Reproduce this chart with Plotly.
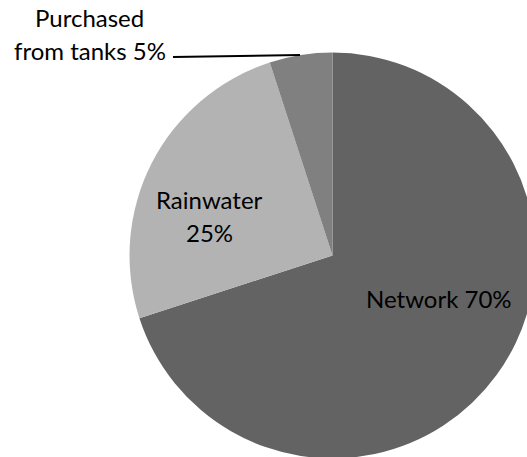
import plotly.graph_objects as go

# Water sources and their shares (%)
sources = ["Network", "Rainwater", "Purchased from tanks"]
shares = [70, 25, 5]
colors = ["#636363", "#b3b3b3", "#808080"]

# Canvas a touch larger than the view so the pie can run off the right/bottom edges
W, H = 540, 470
cx, cy, r = 332.5, 255.5, 203.0  # pie centre and radius in px (from top-left)


def px(x):
    return x / W


def py(y):
    return 1 - y / H


fig = go.Figure(
    go.Pie(
        labels=sources,
        values=shares,
        sort=False,
        direction="clockwise",
        rotation=0,
        marker=dict(colors=colors, line=dict(width=0)),
        textinfo="none",
        hoverinfo="label+percent",
        showlegend=False,
        domain=dict(x=[px(cx - r), px(cx + r)], y=[py(cy + r), py(cy - r)]),
    )
)

font = dict(family="Lato, 'Open Sans', sans-serif", size=24, color="#000000")

# One annotation per text line so the line spacing can be set freely
lines = [
    (f"{sources[0]} {shares[0]}%", 439, 298),
    (sources[1], 209, 199),
    (f"{shares[1]}%", 209, 232),
    ("Purchased", 89, 18),
    (f"from tanks {shares[2]}%", 90, 50),
]
for text, x, y in lines:
    fig.add_annotation(
        text=text, x=px(x), y=py(y), xref="paper", yref="paper",
        showarrow=False, font=font, align="center",
        xanchor="center", yanchor="middle",
    )

# Leader line from the small-slice label to the pie edge
fig.add_shape(
    type="line", xref="paper", yref="paper",
    x0=px(173), y0=py(57), x1=px(300), y1=py(55),
    line=dict(color="#000000", width=2),
)

fig.update_layout(
    width=W, height=H,
    margin=dict(l=0, r=0, t=0, b=0),
    paper_bgcolor="#ffffff",
    plot_bgcolor="#ffffff",
)

fig.write_html(
    "out.html",
    post_script="document.documentElement.style.overflow='hidden';document.body.style.overflow='hidden';",
)
